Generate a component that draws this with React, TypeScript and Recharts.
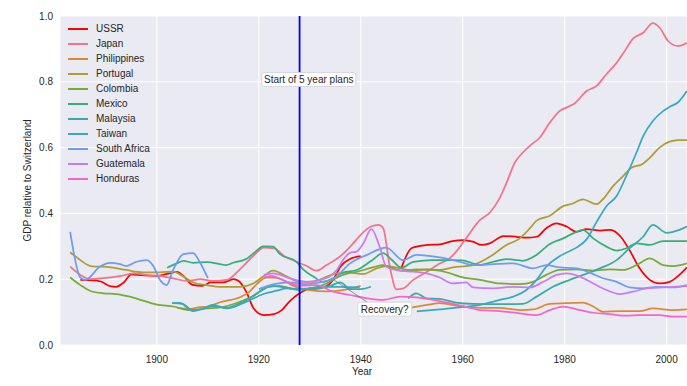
import React from 'react';
import { LineChart, Line, XAxis, YAxis, CartesianGrid, ReferenceLine, ReferenceDot } from 'recharts';

const xTicks = [1900, 1920, 1940, 1960, 1980, 2000];
const yTicks = [0, 0.2, 0.4, 0.6, 0.8, 1.0];

type P = [number, number | null];

const ussr: P[] = [[1885,0.198],[1887,0.197],[1889,0.193],[1891,0.178],[1892,0.177],[1893.5,0.19],[1895,0.215],[1897,0.212],[1900,0.21],[1902,0.216],[1904,0.222],[1905.2,0.21],[1907,0.183],[1909,0.18],[1910.5,0.19],[1913,0.19],[1915,0.2],[1916,0.195],[1917.6,0.16],[1919,0.111],[1921,0.091],[1923,0.094],[1924.5,0.106],[1926,0.132],[1928,0.157],[1930,0.172],[1932.6,0.175],[1934.6,0.198],[1936,0.238],[1938,0.262],[1940,0.27],[1944,null],[1948,0.236],[1950,0.295],[1953,0.304],[1955.5,0.306],[1958,0.316],[1960,0.319],[1962,0.314],[1963.7,0.304],[1965.3,0.309],[1968,0.331],[1970.5,0.329],[1972.5,0.326],[1974.5,0.329],[1976.4,0.355],[1978.4,0.37],[1980.4,0.36],[1982.3,0.344],[1984.3,0.352],[1987,0.348],[1989,0.35],[1991,0.329],[1992.7,0.289],[1994.7,0.233],[1996.7,0.198],[1998.6,0.187],[2000.6,0.192],[2002.5,0.213],[2004,0.236]];

const japan: P[] = [[1883,0.238],[1885,0.213],[1887,0.2],[1889.5,0.203],[1893,0.21],[1895.5,0.218],[1898,0.213],[1900.6,0.21],[1903,0.203],[1906,0.195],[1908.5,0.2],[1911,0.195],[1913.7,0.198],[1916.3,0.23],[1919,0.272],[1921,0.296],[1923,0.294],[1925,0.27],[1927.4,0.253],[1929.4,0.24],[1931.3,0.226],[1933.3,0.243],[1936,0.27],[1938,0.3],[1940,0.335],[1942,0.36],[1943.5,0.365],[1944.4,0.355],[1945.7,0.238],[1947,0.169],[1948.3,0.172],[1950.3,0.198],[1953,0.223],[1955.5,0.248],[1957,0.258],[1958.5,0.28],[1960.7,0.325],[1963.4,0.38],[1965.3,0.402],[1967.3,0.448],[1968.6,0.493],[1970.2,0.554],[1971.8,0.585],[1973.5,0.61],[1975.1,0.63],[1977.1,0.676],[1979,0.711],[1980.7,0.724],[1982,0.735],[1984.3,0.772],[1986.2,0.787],[1988.2,0.823],[1990.2,0.858],[1991.8,0.894],[1993.4,0.931],[1995.4,0.949],[1997.3,0.978],[1998.6,0.965],[2000.3,0.924],[2002.2,0.909],[2004,0.919]];

const philippines: P[] = [[1904,0.113],[1906.5,0.11],[1908.5,0.115],[1910,0.117],[1912.4,0.13],[1916.3,0.145],[1918,0.16],[1919.6,0.185],[1921.5,0.205],[1923,0.205],[1924.5,0.2],[1926.7,0.18],[1930,0.167],[1933.3,0.163],[1936.5,0.167],[1940,0.18],[1944,null],[1947,0.105],[1949,0.111],[1953,0.122],[1955.5,0.127],[1959.4,0.118],[1963.4,0.113],[1967.3,0.113],[1971.2,0.106],[1973.8,0.108],[1977.1,0.125],[1980.4,0.127],[1983.6,0.129],[1985.6,0.117],[1987.5,0.101],[1990.8,0.103],[1994.7,0.103],[1997.3,0.111],[2001.3,0.106],[2004,0.108]];

const portugal: P[] = [[1883,0.282],[1885,0.258],[1887,0.24],[1891,0.236],[1894,0.228],[1897.3,0.221],[1900.6,0.221],[1903.2,0.223],[1905.2,0.208],[1907.1,0.19],[1909.8,0.182],[1912.4,0.177],[1916.3,0.177],[1918.9,0.187],[1921,0.21],[1922.8,0.226],[1925.5,0.208],[1928,0.192],[1930.7,0.192],[1932.6,0.203],[1935.3,0.218],[1937.9,0.22],[1940.5,0.216],[1943.1,0.233],[1945,0.24],[1947.7,0.233],[1950.3,0.226],[1952.9,0.23],[1955.5,0.228],[1958.1,0.236],[1960.7,0.24],[1962,0.243],[1965.3,0.268],[1968.6,0.304],[1971.2,0.324],[1973.2,0.355],[1974.5,0.378],[1977.1,0.393],[1979.7,0.422],[1981.6,0.43],[1983.6,0.443],[1986.2,0.428],[1987.5,0.443],[1989.5,0.483],[1991.5,0.514],[1993.1,0.539],[1995.1,0.549],[1996.7,0.569],[1998.6,0.6],[2000.6,0.618],[2002.2,0.623],[2004,0.623]];

const colombia: P[] = [[1883,0.205],[1885,0.182],[1887,0.164],[1889.5,0.157],[1892,0.155],[1894.7,0.147],[1897.3,0.135],[1900,0.123],[1903.2,0.117],[1906.5,0.106],[1909.8,0.111],[1912.4,0.114],[1916,0.13],[1919,0.15],[1921.5,0.175],[1924,0.18],[1927,0.17],[1930,0.172],[1933,0.185],[1936,0.21],[1939.8,0.225],[1942.4,0.236],[1944.4,0.243],[1946.4,0.233],[1948.3,0.225],[1950.9,0.23],[1954.2,0.228],[1957.5,0.218],[1959.4,0.208],[1963.4,0.198],[1967.3,0.187],[1971.2,0.185],[1973.8,0.192],[1976.4,0.213],[1979,0.228],[1982.3,0.23],[1985.6,0.226],[1988.8,0.23],[1991.5,0.228],[1994.1,0.243],[1996.7,0.263],[1999.3,0.243],[2001.3,0.24],[2004,0.248]];

const mexico: P[] = [[1902,0.235],[1903.9,0.248],[1905.2,0.256],[1907.1,0.25],[1909.8,0.252],[1912.4,0.246],[1913.5,0.243],[1915,0.25],[1917.6,0.262],[1919,0.279],[1920.9,0.3],[1922.8,0.299],[1924.1,0.277],[1927.4,0.253],[1928.7,0.23],[1930.7,0.208],[1932.6,0.192],[1934.6,0.203],[1936.5,0.22],[1939.2,0.228],[1942,0.255],[1944.4,0.279],[1946,0.26],[1948,0.235],[1950.3,0.253],[1954.2,0.258],[1958.1,0.258],[1960,0.257],[1963.4,0.243],[1966,0.253],[1968.6,0.261],[1971.8,0.256],[1974.5,0.274],[1977.1,0.307],[1979.7,0.324],[1982.3,0.344],[1983.6,0.35],[1985.6,0.324],[1988.2,0.299],[1990.2,0.287],[1992.1,0.294],[1994.1,0.309],[1996.7,0.304],[1999.3,0.316],[2004,0.316]];

const malaysia: P[] = [[1903,0.127],[1905,0.125],[1907,0.105],[1909,0.11],[1911,0.118],[1913.7,0.113],[1916,0.125],[1918,0.14],[1920.5,0.165],[1922.5,0.18],[1925,0.175],[1928,0.17],[1931,0.17],[1934,0.18],[1936,0.19],[1938,0.17],[1940,0.17],[1942,0.177],[1946,null],[1949.3,0.142],[1950.9,0.157],[1952.9,0.142],[1955.5,0.14],[1958.7,0.129],[1962,0.125],[1967.3,0.124],[1971.8,0.125],[1974.5,0.147],[1977.7,0.177],[1981,0.198],[1983.6,0.213],[1986.9,0.233],[1990.2,0.258],[1992.7,0.294],[1995.4,0.329],[1997.3,0.365],[2000,0.341],[2002.5,0.35],[2004,0.36]];

const taiwan: P[] = [[1903,0.127],[1904.5,0.128],[1907.1,0.103],[1909,0.11],[1911,0.122],[1913.7,0.111],[1917.6,0.132],[1920.9,0.155],[1923.5,0.165],[1925.5,0.172],[1928,0.167],[1932,0.177],[1935.9,0.177],[1939.8,0.175],[1946,null],[1951,0.102],[1955.5,0.108],[1959.4,0.114],[1963.4,0.122],[1967.3,0.137],[1969.9,0.147],[1972.5,0.167],[1974.5,0.198],[1976.4,0.238],[1979,0.27],[1980.4,0.281],[1982.3,0.296],[1984.3,0.321],[1986.2,0.372],[1988.2,0.422],[1990.2,0.453],[1992.1,0.514],[1994.1,0.585],[1995.4,0.635],[1997.3,0.681],[1999.3,0.711],[2000.6,0.724],[2002.2,0.737],[2004,0.772]];

const southAfrica: P[] = [[1883,0.344],[1885,0.205],[1886,0.198],[1888.8,0.238],[1890.8,0.25],[1892.8,0.246],[1894,0.24],[1896,0.253],[1898,0.258],[1899.3,0.24],[1900.6,0.198],[1901.9,0.182],[1903.2,0.228],[1905.2,0.276],[1907.1,0.279],[1908.5,0.25],[1910,0.203],[1915,null],[1920,0.17],[1923,0.185],[1926,0.19],[1929,0.185],[1932,0.19],[1935,0.205],[1937.9,0.248],[1941.2,0.274],[1945,0.296],[1948.3,0.258],[1950.9,0.274],[1955.5,0.266],[1959.4,0.253],[1962,0.243],[1966,0.246],[1969.9,0.248],[1973.8,0.233],[1976.4,0.243],[1979,0.236],[1982.3,0.233],[1984.9,0.22],[1987.5,0.203],[1990.2,0.192],[1992.7,0.175],[1995.4,0.172],[1998,0.177],[2001.3,0.175],[2004,0.182]];

const guatemala: P[] = [[1921,0.213],[1922.8,0.218],[1926,0.203],[1929.4,0.192],[1932,0.198],[1933.9,0.208],[1935.3,0.228],[1936.5,0.258],[1937.9,0.28],[1939.2,0.284],[1940.5,0.309],[1942.1,0.352],[1943.7,0.299],[1945,0.238],[1947.7,0.226],[1950.3,0.223],[1952.9,0.218],[1955.5,0.205],[1958.1,0.187],[1960.7,0.19],[1962,0.175],[1966,0.172],[1969.9,0.177],[1973.2,0.175],[1975.8,0.192],[1978.4,0.213],[1980.4,0.218],[1983,0.208],[1985.6,0.187],[1988.2,0.167],[1990.8,0.155],[1993.4,0.162],[1996,0.172],[1999.3,0.175],[2004,0.179]];

const honduras: P[] = [[1921,0.205],[1922.5,0.21],[1925,0.195],[1928,0.18],[1931.3,0.182],[1934.6,0.162],[1937.9,0.152],[1941.2,0.142],[1944.4,0.137],[1947.7,0.147],[1950.9,0.145],[1954.2,0.137],[1958.1,0.125],[1962,0.111],[1963.4,0.106],[1967.3,0.103],[1971.2,0.096],[1974.5,0.091],[1977.1,0.106],[1979.7,0.117],[1983,0.106],[1985.6,0.098],[1988.8,0.094],[1992.1,0.089],[1994.7,0.091],[1998.6,0.091],[2001.3,0.086],[2004,0.086]];

const seriesNames = ['USSR','Japan','Philippines','Portugal','Colombia','Mexico','Malaysia','Taiwan','South Africa','Guatemala','Honduras'];
const seriesData = [ussr, japan, philippines, portugal, colombia, mexico, malaysia, taiwan, southAfrica, guatemala, honduras];
const seriesColors = ['#ff0000','#f77189','#dc8932','#ae9d31','#77ab31','#33b07a','#36ada4','#38a9c5','#6e9bf4','#cc7af4','#f565cc'];

const planYear = 1928;
const planLabel = { x: 1929.8, y: 0.807, text: 'Start of 5 year plans' };
const recoveryLabel = { x: 1944.7, y: 0.109, text: 'Recovery?' };
const recoveryArrow = [{ x: 1934.8, y: 0.197 }, { x: 1941.3, y: 0.13 }];

const FONT = '"Liberation Sans", Arial, "DejaVu Sans", sans-serif';
const toPts = (arr: P[]) => arr.map(([x, y]) => ({ year: x, v: y }));

const boxShape = (text: string, w: number) => (props: any) => {
  const { cx, cy } = props;
  return (
    <g>
      <rect x={cx - w / 2} y={cy - 7} width={w} height={14} rx={2.5} ry={2.5} fill="#ffffff" stroke="#cfcfd6" strokeWidth={0.8} />
      <text x={cx} y={cy + 3.6} textAnchor="middle" fontSize={10} fontFamily={FONT} fill="#262626">{text}</text>
    </g>
  );
};

const YLabel = (props: any) => {
  const vb = props.viewBox || { x: 0, y: 16, width: 60, height: 329 };
  const cx = vb.x + 28;
  const cy = vb.y + vb.height / 2;
  return (
    <text x={cx} y={cy} transform={`rotate(-90 ${cx} ${cy})`} textAnchor="middle" dominantBaseline="middle" fontSize={10} fontFamily={FONT} fill="#262626">GDP relative to Switzerland</text>
  );
};

const XLabel = (props: any) => {
  const vb = props.viewBox || { x: 60, y: 345, width: 627, height: 41 };
  return (
    <text x={vb.x + 302} y={vb.y + 30} textAnchor="middle" fontSize={10} fontFamily={FONT} fill="#262626">Year</text>
  );
};

export default function App() {
  return (
    <div style={{ position: 'absolute', left: 0, top: 0, width: 687, height: 386, background: '#fff' }}>
      <LineChart width={687} height={386} margin={{ top: 16, right: 0, bottom: 0, left: 0 }}>
        <CartesianGrid fill="#eaeaf2" stroke="#ffffff" strokeWidth={1} />
        <XAxis type="number" dataKey="year" domain={[1881, 2004]} ticks={xTicks} allowDataOverflow
          height={41} tickLine={false} axisLine={false} tickSize={0} tickMargin={11}
          tick={{ fontSize: 10, fill: '#262626', fontFamily: FONT }} label={<XLabel />} />
        <YAxis type="number" domain={[0, 1]} ticks={yTicks} allowDataOverflow width={60}
          tickLine={false} axisLine={false} tickSize={0} tickMargin={7}
          tickFormatter={(v: number) => v.toFixed(1)}
          tick={{ fontSize: 10, fill: '#262626', fontFamily: FONT }} label={<YLabel />} />
        {seriesData.map((d, i) => (
          <Line key={seriesNames[i]} data={toPts(d)} dataKey="v" name={seriesNames[i]} type="monotone"
            stroke={seriesColors[i]} strokeWidth={1.75} dot={false} activeDot={false} isAnimationActive={false} />
        ))}
        <ReferenceLine x={planYear} stroke="#0000ff" strokeWidth={1.8} />
        <ReferenceLine segment={recoveryArrow} stroke="#666666" strokeWidth={0.7} />
        <ReferenceDot x={planLabel.x} y={planLabel.y} r={0} shape={boxShape(planLabel.text, 94)} />
        <ReferenceDot x={recoveryLabel.x} y={recoveryLabel.y} r={0} shape={boxShape(recoveryLabel.text, 54)} />
      </LineChart>
      <div style={{ position: 'absolute', left: 68, top: 21, fontFamily: FONT, fontSize: 10, color: '#262626' }}>
        {seriesNames.map((n, i) => (
          <div key={n} style={{ height: 15, display: 'flex', alignItems: 'center' }}>
            <div style={{ width: 20, height: 2, background: seriesColors[i], marginRight: 8 }} />
            <span>{n}</span>
          </div>
        ))}
      </div>
    </div>
  );
}
